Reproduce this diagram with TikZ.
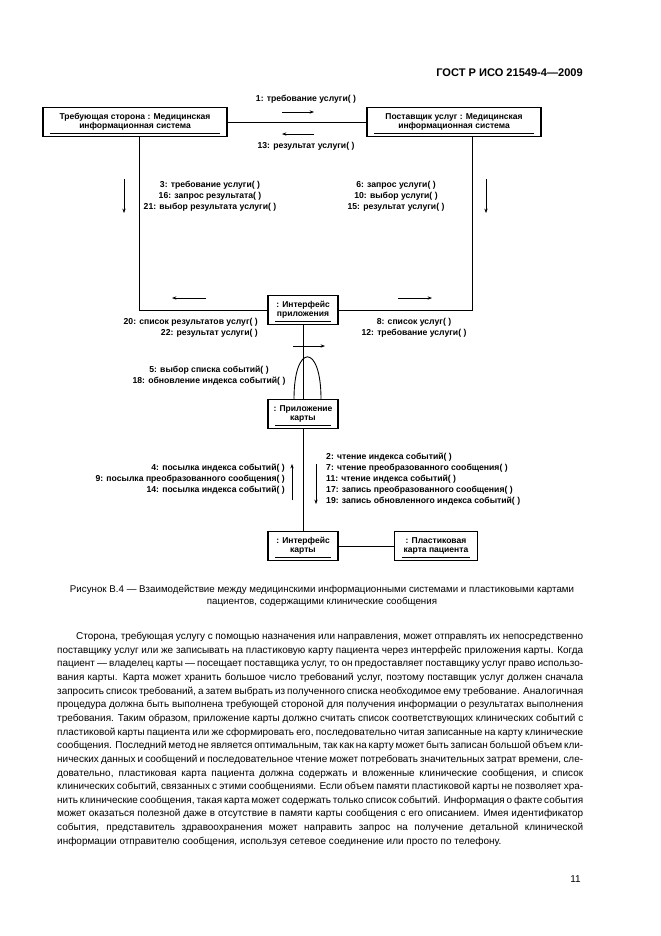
\documentclass[tikz,border=0pt]{standalone}
\usepackage{fontspec}
\setmainfont{Liberation Sans}
\usetikzlibrary{positioning,arrows.meta}
\newcommand{\diagfont}{\bfseries\fontsize{7.7}{8.4}\selectfont}
\newcommand{\lblfont}{\bfseries\fontsize{7.8}{10}\selectfont}
\newcommand{\bodyfont}{\fontsize{9}{12.33}\selectfont}
\tikzset{obj node/.style={draw,line width=1.2pt,align=center,inner sep=1pt,minimum height=9.2mm,font=\diagfont},
  lbl/.style={inner sep=0pt,font=\lblfont},
  uline/.style={line width=0.7pt},
  link/.style={line width=0.8pt},
  msg/.style={line width=0.6pt,-{Stealth[length=4pt,width=3pt]}},
}
\begin{document}
\begin{tikzpicture}[x=0.3175mm,y=-0.3175mm,node distance=17.5mm]
\useasboundingbox (0,0) rectangle (661,936);
% header
\node[anchor=east,inner sep=0pt,font=\bfseries\fontsize{10}{12}\selectfont] (hdr) at (583,73) {ГОСТ Р ИСО 21549-4—2009};
% objects
\node[obj node,minimum width=58.4mm] (req) at (135,122) {Требующая сторона : Медицинская\\информационная система};
\node[obj node,minimum width=55.2mm] (prov) at (454,122) {Поставщик услуг : Медицинская\\информационная система};
\node[obj node,minimum width=22.2mm] (appif) at (303,310) {: Интерфейс\\приложения};
\node[obj node,minimum width=22.2mm] (cardapp) at (303,414) {: Приложение\\карты};
\node[obj node,minimum width=22.2mm] (cardif) at (303,546) {: Интерфейс\\карты};
\node[obj node,minimum width=26.4mm,right=17.5mm of cardif] (plast) {: Пластиковая\\карта пациента};
\foreach \n in {req,prov,appif,cardapp,cardif,plast}
  \draw[uline] ([xshift=2.5mm,yshift=1.3mm]\n.south west) -- ([xshift=-2.5mm,yshift=1.3mm]\n.south east);
% links
\coordinate (lcorner) at (139,310);
\coordinate (rcorner) at (472,310);
\draw[link] (req) -- (prov);
\draw[link] (req.south -| lcorner) -- (lcorner) -- (appif.west);
\draw[link] (prov.south -| rcorner) -- (rcorner) -- (appif.east);
\draw[link] (appif) -- (cardapp);
\draw[link] (cardapp) -- (cardif);
\draw[link] (cardif) -- (plast);
% self link
\draw[link] (cardapp.north) ++(-9,0) .. controls +(0,-56) and +(0,-56) .. ++(27,0);
% messages
\draw[msg] (282,112) -- (314,112);
\draw[msg] (314,134) -- (282,134);
\node[lbl] (m1) at (306,99) {1: требование услуги( )};
\node[lbl] (m13) at (306,146) {13: результат услуги( )};
\draw[msg] (124,179) -- (124,213);
\draw[msg] (486,179) -- (486,213);
\node[lbl,align=center] (m3) at (210,196) {3: требование услуги( )\\16: запрос результата( )\\21: выбор результата услуги( )};
\node[lbl,align=center] (m6) at (396,196) {6: запрос услуги( )\\10: выбор услуги( )\\15: результат услуги( )};
\draw[msg] (206,298) -- (172,298);
\draw[msg] (398,298) -- (432,298);
\node[lbl,align=right,anchor=north east] (m20) at (258,318) {20: список результатов услуг( )\\22: результат услуги( )};
\node[lbl,align=center,anchor=north] (m8) at (414,318) {8: список услуг( )\\12: требование услуги( )};
\draw[msg] (293,346) -- (325,346);
\node[lbl,align=center] (m5) at (209,376) {5: выбор списка событий( )\\18: обновление индекса событий( )};
\draw[msg] (292,500) -- (292,464);
\draw[msg] (316,464) -- (316,504);
\node[lbl,align=right,anchor=east] (m4) at (285,479) {4: посылка индекса событий( )\\9: посылка преобразованного сообщения( )\\14: посылка индекса событий( )};
\node[lbl,align=left,anchor=west] (m2) at (326,479) {2: чтение индекса событий( )\\7: чтение преобразованного сообщения( )\\11: чтение индекса событий( )\\17: запись преобразованного сообщения( )\\19: запись обновленного индекса событий( )};
% caption
\node[align=center,inner sep=0pt,font=\fontsize{8.8}{10.8}\selectfont] (cap) at (322,596) {Рисунок В.4 — Взаимодействие между медицинскими информационными системами и пластиковыми картами\\пациентов, содержащими клинические сообщения};
% body text
\node[anchor=north west,inner sep=0pt,text width=167mm,align=justify,font=\bodyfont] (body) at (57,632) {\hspace*{6mm}Сторона, требующая услугу с помощью назначения или направления, может отправлять их непосредственно\linebreak
поставщику услуг или же записывать на пластиковую карту пациента через интерфейс приложения карты. Когда\linebreak
пациент — владелец карты — посещает поставщика услуг, то он предоставляет поставщику услуг право использо-\linebreak
вания карты. Карта может хранить большое число требований услуг, поэтому поставщик услуг должен сначала\linebreak
запросить список требований, а затем выбрать из полученного списка необходимое ему требование. Аналогичная\linebreak
процедура должна быть выполнена требующей стороной для получения информации о результатах выполнения\linebreak
требования. Таким образом, приложение карты должно считать список соответствующих клинических событий с\linebreak
пластиковой карты пациента или же сформировать его, последовательно читая записанные на карту клинические\linebreak
сообщения. Последний метод не является оптимальным, так как на карту может быть записан большой объем кли-\linebreak
нических данных и сообщений и последовательное чтение может потребовать значительных затрат времени, сле-\linebreak
довательно, пластиковая карта пациента должна содержать и вложенные клинические сообщения, и список\linebreak
клинических событий, связанных с этими сообщениями. Если объем памяти пластиковой карты не позволяет хра-\linebreak
нить клинические сообщения, такая карта может содержать только список событий. Информация о факте события\linebreak
может оказаться полезной даже в отсутствие в памяти карты сообщения с его описанием. Имея идентификатор\linebreak
события, представитель здравоохранения может направить запрос на получение детальной клинической\linebreak
информации отправителю сообщения, используя сетевое соединение или просто по телефону.};
% page number
\node[anchor=east,inner sep=0pt,font=\fontsize{9}{11}\selectfont] (pg) at (581,879) {11};
\end{tikzpicture}
\end{document}
